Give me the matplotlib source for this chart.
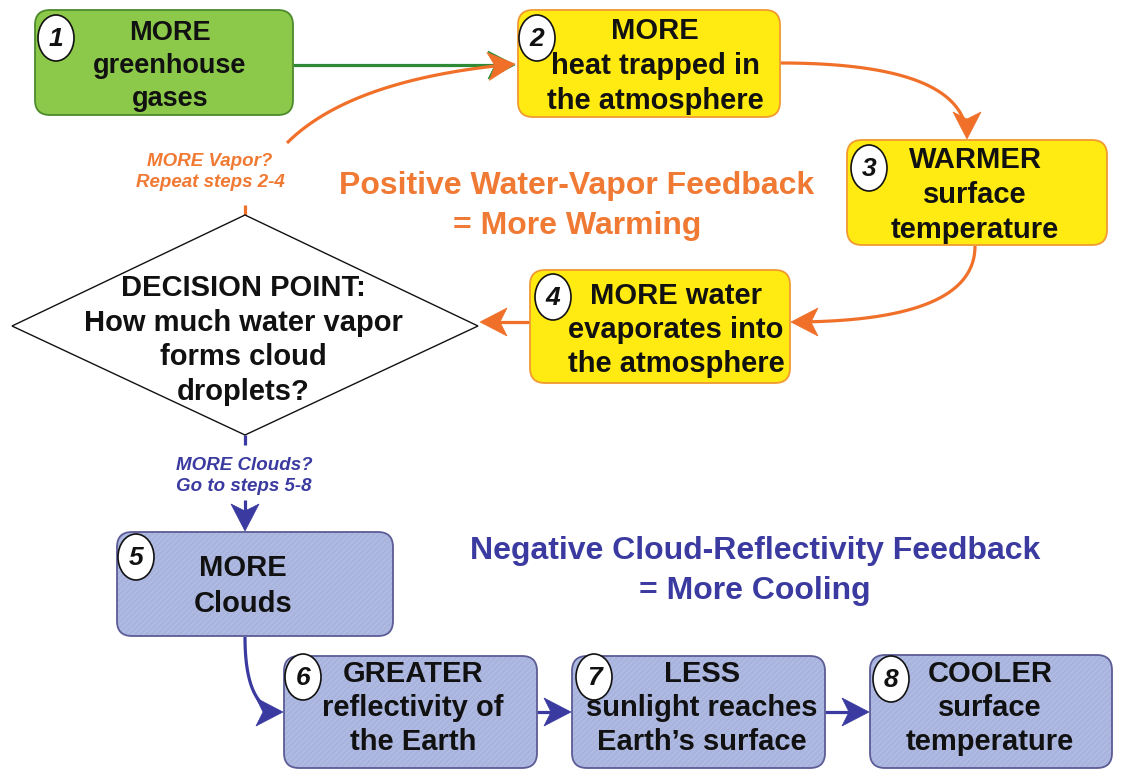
import numpy as np
import matplotlib
matplotlib.use('Agg')
import matplotlib.pyplot as plt
from matplotlib.patches import FancyBboxPatch, Ellipse, Polygon

plt.rcParams['font.family'] = ['Liberation Sans', 'DejaVu Sans']
plt.rcParams['hatch.linewidth'] = 0.6

# ---------------- content ----------------
step_numbers = ['1', '2', '3', '4', '5', '6', '7', '8']
step_texts = [
    'MORE\ngreenhouse\ngases',
    'MORE\nheat trapped in\nthe atmosphere',
    'WARMER\nsurface\ntemperature',
    'MORE water\nevaporates into\nthe atmosphere',
    'MORE\nClouds',
    'GREATER\nreflectivity of\nthe Earth',
    'LESS\nsunlight reaches\nEarth\u2019s surface',
    'COOLER\nsurface\ntemperature',
]
step_kind = ['green', 'yellow', 'yellow', 'yellow', 'blue', 'blue', 'blue', 'blue']
decision_text = 'DECISION POINT:\nHow much water vapor\nforms cloud\ndroplets?'
vapor_label = 'MORE Vapor?\nRepeat steps 2-4'
cloud_label = 'MORE Clouds?\nGo to steps 5-8'
positive_title = 'Positive Water-Vapor Feedback\n= More Warming'
negative_title = 'Negative Cloud-Reflectivity Feedback\n= More Cooling'

# ---------------- layout (pixels) ----------------
box_x0 = [35, 518, 847, 530, 117, 284, 572, 870]
box_y0 = [10, 10, 140, 270, 532, 656, 656, 655]
box_x1 = [293, 780, 1107, 790, 393, 537, 825, 1112]
box_y1 = [115, 117, 245, 383, 636, 768, 768, 768]
text_cx = [170, 655, 975, 676, 243, 413, 702, 990]
text_cy = [66, 66, 195, 330, 586, 708, 708, 708]
text_size = [19.5, 21, 21, 21, 21, 21, 21, 21]
line_step = [33, 35, 35, 34, 35, 34, 34, 34]
badge_cx = [56, 537, 869, 553, 136, 303, 594, 891]
badge_cy = [38, 38, 168, 297, 557, 677, 677, 679]

fills = {'green': '#8cc84a', 'yellow': '#ffea12', 'blue': '#a9b4de'}
edges = {'green': '#4c8a2c', 'yellow': '#f09a30', 'blue': '#5c5c96'}
ORANGE = '#f0702a'
ORANGE_T = '#f07a34'
BLUE = '#3a3aa0'
GREEN = '#2f8a35'

W, H = 1122, 769
fig = plt.figure(figsize=(W / 100, H / 100), dpi=100)
ax = fig.add_axes([0, 0, 1, 1])
ax.set_xlim(0, W)
ax.set_ylim(H, 0)
ax.axis('off')

for i in range(len(step_texts)):
    k = step_kind[i]
    x0, y0, x1, y1 = box_x0[i], box_y0[i], box_x1[i], box_y1[i]
    ax.add_patch(FancyBboxPatch((x0, y0), x1 - x0, y1 - y0,
                                boxstyle='round,pad=0,rounding_size=15',
                                facecolor=fills[k], edgecolor='none', zorder=2))
    if k == 'blue':
        ax.add_patch(FancyBboxPatch((x0, y0), x1 - x0, y1 - y0,
                                    boxstyle='round,pad=0,rounding_size=15',
                                    facecolor='none', edgecolor='#b8c1e6', lw=0,
                                    hatch='//////', zorder=2.1))
    ax.add_patch(FancyBboxPatch((x0, y0), x1 - x0, y1 - y0,
                                boxstyle='round,pad=0,rounding_size=15',
                                facecolor='none', edgecolor=edges[k], lw=1.3, zorder=2.2))
    lines = step_texts[i].split('\n')
    nl = len(lines)
    for j, line in enumerate(lines):
        ax.text(text_cx[i], text_cy[i] + (j - (nl - 1) / 2) * line_step[i], line,
                ha='center', va='center', fontsize=text_size[i], fontweight='bold',
                color='#111111', zorder=3)
    ax.add_patch(Ellipse((badge_cx[i], badge_cy[i]), 36, 46, facecolor='white',
                         edgecolor='#111111', lw=1.2, zorder=4))
    ax.text(badge_cx[i], badge_cy[i] + 1, step_numbers[i], ha='center', va='center',
            fontsize=19, fontweight='bold', fontstyle='italic', color='#111111', zorder=5)

# decision diamond
dcx, dcy = 245, 326
ax.add_patch(Polygon([(12, dcy), (dcx, 215), (478, dcy), (dcx, 435)], closed=True,
                     facecolor='white', edgecolor='#111111', lw=1.0, zorder=2))
ax.text(243, 340, decision_text, ha='center', va='center', fontsize=21,
        fontweight='bold', color='#111111', linespacing=1.3, zorder=3)

# labels and titles
ax.text(210, 172, vapor_label, ha='center', va='center', fontsize=13.5,
        fontweight='bold', fontstyle='italic', color=ORANGE_T, linespacing=1.3, zorder=3)
ax.text(244, 476, cloud_label, ha='center', va='center', fontsize=13.5,
        fontweight='bold', fontstyle='italic', color=BLUE, linespacing=1.3, zorder=3)
ax.text(577, 206, positive_title, ha='center', va='center', fontsize=23,
        fontweight='bold', color=ORANGE_T, linespacing=1.4, zorder=3)
ax.text(755, 571, negative_title, ha='center', va='center', fontsize=23,
        fontweight='bold', color=BLUE, linespacing=1.4, zorder=3)


# ---------------- arrows ----------------
def ctrl_point(p0, p2, dA, dB):
    # intersection of line through p0 along dA and line through p2 along dB
    A = np.array([[dA[0], dB[0]], [dA[1], dB[1]]], float)
    b = np.array(p2, float) - np.array(p0, float)
    s, _ = np.linalg.solve(A, b)
    return np.array(p0, float) + s * np.array(dA, float)


def arrow(p0, p1, color, dA=None, dB=None, lw=2.3, head=True, z=1.5,
          L=27.0, Wd=28.0):
    p0 = np.array(p0, float)
    p1 = np.array(p1, float)
    if dA is None:
        pts = np.linspace(0, 1, 50)[:, None] * (p1 - p0) + p0
        u = (p1 - p0)
    else:
        c = ctrl_point(p0, p1, dA, dB)
        t = np.linspace(0, 1, 120)[:, None]
        pts = (1 - t) ** 2 * p0 + 2 * (1 - t) * t * c + t ** 2 * p1
        u = p1 - c
    u = u / np.hypot(*u)
    if head:
        keep = np.hypot(*(pts - p1).T) > 0.6 * L
        pts = pts[keep]
    ax.plot(pts[:, 0], pts[:, 1], color=color, lw=lw, solid_capstyle='butt', zorder=z)
    if head:
        n = np.array([-u[1], u[0]])
        back = p1 - L * u
        notch = p1 - 0.74 * L * u
        poly = [p1, back + n * Wd / 2, notch, back - n * Wd / 2]
        ax.add_patch(Polygon(poly, closed=True, facecolor=color, edgecolor=color,
                             lw=0.5, zorder=z + 0.05))


arrow((293, 65), (515, 65), GREEN, z=1.5)
arrow((287, 143), (515, 64), ORANGE, dA=(1, -1), dB=(1, -0.09), z=1.6)
arrow((245, 205), (245, 215), ORANGE, head=False)
arrow((780, 63), (967, 139), ORANGE, dA=(1, 0), dB=(0, 1))
arrow((975, 246), (791, 322), ORANGE, dA=(0, 1), dB=(-1, 0))
arrow((530, 322), (480, 322), ORANGE)
arrow((245, 435), (245, 445), BLUE, head=False)
arrow((245, 500), (245, 531), BLUE)
arrow((245, 637), (283, 712), BLUE, dA=(0, 1), dB=(1, 0))
arrow((537, 712), (571, 712), BLUE)
arrow((825, 712), (869, 712), BLUE)

fig.savefig('out.png', dpi=100)
